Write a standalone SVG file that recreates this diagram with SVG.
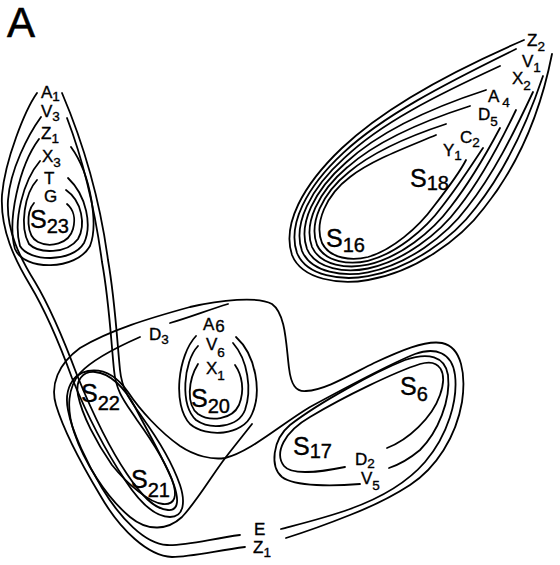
<svg xmlns="http://www.w3.org/2000/svg" width="560" height="565" viewBox="0 0 560 565">
<style>
.c{fill:none;stroke:#000;stroke-width:1.8;stroke-linecap:round;stroke-linejoin:round}
.t{font-family:"Liberation Sans",Arial,sans-serif;font-size:17px;fill:#000;stroke:#000;stroke-width:0.35}
.s{font-family:"Liberation Sans",Arial,sans-serif;font-size:25px;fill:#000;stroke:#000;stroke-width:0.4}
.b{font-size:13.5px}
.bs{font-size:20px}
</style>
<rect width="560" height="565" fill="#fff"/>
<text x="7" y="37" font-family="Liberation Sans,Arial,sans-serif" font-size="42" stroke="#000" stroke-width="0.6">A</text>

<g id="connectors">
<!-- S16/S18 blob -->
<path class="c" d="M524,40 C450,72 385,107 342,148 C302,186 282,225 292,255 C302,280 340,285 368,280 C415,272 460,240 484,208 C516,168 540,115 552,54"/>
<path class="c" d="M516,49 C442.5,85 382.8,116 343.3,152.8 C306,187.5 287.3,224.7 297,253 C306.7,276.5 342,281 368,276.2 C411.2,268.3 453,238 475.7,207.7 C504.7,171.3 526.7,124.5 543,76"/>
<path class="c" d="M500,66 C435,96 380.7,123.3 344.7,157.7 C310,189 292.7,224.3 302,251 C311.3,273 344,277 368,272.3 C407.3,264.7 446,236 467.3,207.3 C493.3,174.7 513.3,134 533,92"/>
<path class="c" d="M486,90 C427.5,109 378.5,132.5 346,162.5 C314,190.5 298,224 307,249 C316,269.5 346,273 368,268.5 C403.5,261 439,234 459,207 C482,178 500,143.5 516,110"/>
<path class="c" d="M470,106 C420,122 376.3,141.7 347.3,167.3 C318,192 303.3,223.7 312,247 C320.7,266 348,269 368,264.7 C399.7,257.3 432,232 450.7,206.7 C470.7,181.3 486.7,153 500,128"/>
<path class="c" d="M446,124 C412.5,135 374.2,150.8 348.7,172.2 C322,193.5 308.7,223.3 317,245 C325.3,262.5 350,265 368,260.8 C395.8,253.7 425,230 442.3,206.3 C459.3,184.7 473.3,162.5 483,148"/>
<path class="c" d="M436,135 C405,148 372,160 350,177 C326,195 314,223 322,243 C330,259 352,261 368,257 C392,250 418,228 434,206 C448,188 460,172 466,160"/>

<!-- S23 loops -->
<path class="c" d="M34,203 C26,212 26,236 38,242 C50,248 69,244 73,229 C76,218 73,209 67,204"/>
<path class="c" d="M37,180 C25,193 19,226 29,244 C39,254 67,254 78,239 C86,225 82,201 66,190"/>
<path class="c" d="M40,161 C23,181 13,221 20,246 C29,262 72,263 84,243 C92,226 87,196 68,178"/>
<path class="c" d="M39,139 C19,166 7,221 15,249 C24,271 76,271 90,246 C98,226 92,176 71,147"/>
<!-- A1 and V3 long loops -->
<path class="c" d="M37,93 C25,110 5,160 2,195 C0,230 15,260 30,285 C45,310 60,345 72,378 C85,410 105,450 125,480 C140,503 155,517 170,517 C185,517 185,500 180,485 C172,462 155,435 142,417 C130,400 122,390 120,370 C117,340 115,300 108,260 C100,200 82,140 62,93"/>
<path class="c" d="M41,117 C28,135 10,170 8,200 C6,230 20,258 35,282 C50,307 65,343 77,375 C90,407 108,446 127,474 C141,495 154,509 168,510 C180,511 178,497 174,485 C167,464 150,438 137,420 C125,402 116,392 114,370 C111,340 109,300 102,262 C95,210 83,160 67,118"/>
<!-- S22/S21 loop -->
<path class="c" d="M95,372 C110,373 125,388 135,407 C148,432 163,458 172,480 C178,496 175,505 163,504 C150,503 128,485 112,465 C96,442 82,415 78,395 C75,380 83,371 95,372 Z"/>

<!-- Z1 outer loop -->
<path class="c" d="M245,547 C215,551 190,557 172,557 C148,556 120,530 100,495 C85,470 65,435 56,405 C50,385 58,364 80,348 C110,330 150,318 190,307 C220,300 258,296 272,304 C286,314 286,345 289,368 C291,385 296,392 306,391 C325,390 348,376 374,363 C400,351 425,340 442,343 C462,347 466,375 462,402 C456,437 436,468 410,485 C390,498 368,508 350,515 C325,525 305,532 286,538"/>
<!-- E loop -->
<path class="c" d="M240,535 C210,539 185,546 167,545 C145,544 120,518 102,488 C88,465 72,432 68,410 C64,390 72,374 88,371 C105,368 118,378 128,392 C140,410 160,432 180,446 C195,456 212,460 225,458 C250,452 280,425 310,407 C345,388 390,364 415,354 C435,347 452,352 455,375 C458,400 448,435 425,462 C405,485 375,500 350,509 C325,518 300,524 281,529"/>
<!-- D3 -->
<path class="c" d="M140,337 C115,348 92,360 80,373 C68,387 66,408 74,432 C84,462 106,497 130,517 C148,532 168,530 182,517 C198,500 212,475 226,457 C236,444 245,433 252,424"/>
<path class="c" d="M170,323 C188,318 208,310 228,304"/>

<!-- S20 loops -->
<path class="c" d="M198,364 C188,380 186,405 198,414 C210,422 232,420 239,405 C245,390 242,375 235,365"/>
<path class="c" d="M198,346 C183,362 180,405 196,420 C210,430 238,428 245,410 C252,390 248,360 233,343"/>
<path class="c" d="M196,336 C178,355 172,405 190,424 C206,438 243,436 252,414 C262,392 256,355 236,337"/>

<!-- S6/S17 loops -->
<path class="c" d="M345,467 C320,472 292,476 284,466 C274,453 284,432 310,417 C345,396 395,372 420,364 C440,358 448,372 440,395 C432,418 408,440 387,448"/>
<path class="c" d="M360,484 C335,486 295,487 282,477 C270,467 272,440 290,425 C320,402 375,372 405,360 C428,352 445,356 448,375 C451,400 438,432 420,450 C408,460 398,465 389,468"/>
</g>

<g id="labels">
<g id="n-A1"><text class="t" x="41" y="98">A<tspan class="b" dy="3">1</tspan></text></g>
<g id="n-V3"><text class="t" x="41" y="117">V<tspan class="b" dy="4">3</tspan></text></g>
<g id="n-Z1a"><text class="t" x="41" y="139">Z<tspan class="b" dy="4">1</tspan></text></g>
<g id="n-X3"><text class="t" x="42" y="162">X<tspan class="b" dy="5">3</tspan></text></g>
<g id="n-T"><text class="t" x="44" y="184">T</text></g>
<g id="n-G"><text class="t" x="44" y="202">G</text></g>
<g id="n-S23"><text class="s" x="30" y="228">S<tspan class="bs" dy="5">23</tspan></text></g>

<g id="n-Z2"><text class="t" x="527" y="46">Z<tspan class="b" dy="5">2</tspan></text></g>
<g id="n-V1"><text class="t" x="522" y="67">V<tspan class="b" dy="5">1</tspan></text></g>
<g id="n-X2"><text class="t" x="512" y="84">X<tspan class="b" dy="6">2</tspan></text></g>
<g id="n-A4"><text class="t" x="488" y="102">A<tspan class="b" dx="3" dy="5">4</tspan></text></g>
<g id="n-D5"><text class="t" x="478" y="120">D<tspan class="b" dy="6">5</tspan></text></g>
<g id="n-C2"><text class="t" x="460" y="143">C<tspan class="b" dy="4">2</tspan></text></g>
<g id="n-Y1"><text class="t" x="443" y="156">Y<tspan class="b" dy="4">1</tspan></text></g>
<g id="n-S18"><text class="s" x="410" y="187">S<tspan class="bs" dy="3">18</tspan></text></g>
<g id="n-S16"><text class="s" x="326" y="247">S<tspan class="bs" dy="5">16</tspan></text></g>

<g id="n-D3"><text class="t" x="149" y="340">D<tspan class="b" dy="4">3</tspan></text></g>
<g id="n-A6"><text class="t" x="203" y="330">A<tspan dx="1" dy="2">6</tspan></text></g>
<g id="n-V6"><text class="t" x="206" y="350">V<tspan class="b" dy="7">6</tspan></text></g>
<g id="n-X1"><text class="t" x="206" y="374">X<tspan class="b" dy="6">1</tspan></text></g>
<g id="n-S20"><text class="s" x="191" y="407">S<tspan class="bs" dy="6">20</tspan></text></g>
<g id="n-S22"><text class="s" x="81" y="402">S<tspan class="bs" dy="8">22</tspan></text></g>
<g id="n-S21"><text class="s" x="131" y="488">S<tspan class="bs" dy="9">21</tspan></text></g>
<g id="n-S6"><text class="s" x="400" y="395">S<tspan class="bs" dy="6">6</tspan></text></g>
<g id="n-S17"><text class="s" x="293" y="455">S<tspan class="bs" dy="3">17</tspan></text></g>
<g id="n-D2"><text class="t" x="355" y="465">D<tspan class="b" dy="3">2</tspan></text></g>
<g id="n-V5"><text class="t" x="361" y="484">V<tspan class="b" dy="6">5</tspan></text></g>
<g id="n-E"><text class="t" x="254" y="535">E</text></g>
<g id="n-Z1b"><text class="t" x="253" y="553">Z<tspan class="b" dy="4">1</tspan></text></g>
</g>
</svg>
